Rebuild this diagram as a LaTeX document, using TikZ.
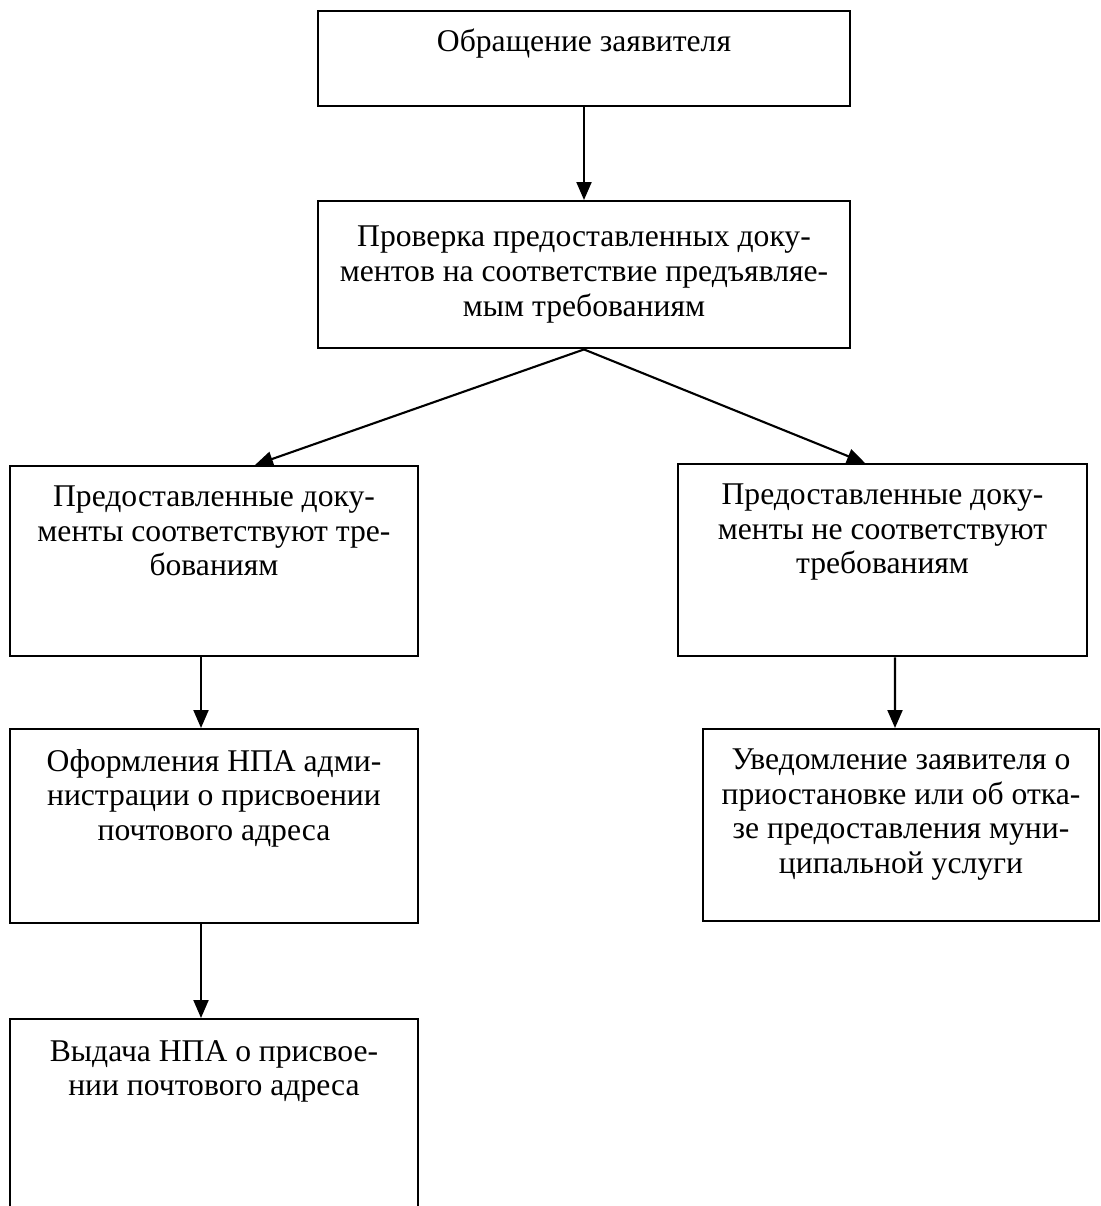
\documentclass[tikz,border=0pt]{standalone}
\usepackage{fontspec}
\setmainfont{Liberation Serif}
\usetikzlibrary{arrows.meta}

\newcommand{\boxtext}[4]{\parbox[c][#2][t]{#1}{\centering\fontsize{18pt}{19.8pt}\selectfont
  \vspace*{#3}\strut #4\strut}}

\begin{document}
\begin{tikzpicture}[x=0.02cm,y=-0.02cm,>={Triangle[length=3.6mm,width=3mm]},
                    box/.style={draw,line width=1.4pt,inner sep=0pt,anchor=north},
                    semithick]

  \clip (0,0) rectangle (1100,1206);

  \node[box] (obr)     at (584,10)   {\boxtext{10.64cm}{1.9cm}{9pt}{Обращение заявителя}};
  \node[box] (prov)    at (584,200)  {\boxtext{10.64cm}{2.94cm}{12pt}{Проверка предоставленных доку-\\ментов на соответствие предъявляе-\\мым требованиям}};
  \node[box] (sootv)   at (214,465)  {\boxtext{8.16cm}{3.8cm}{9pt}{Предоставленные доку-\\менты соответствуют тре-\\бованиям}};
  \node[box] (nesootv) at (882.5,463){\boxtext{8.18cm}{3.84cm}{9pt}{Предоставленные доку-\\менты не соответствуют\\требованиям}};
  \node[box] (oform)   at (214,728)  {\boxtext{8.16cm}{3.88cm}{10pt}{Оформления НПА адми-\\нистрации о присвоении\\почтового адреса}};
  \node[box] (uved)    at (901,728)  {\boxtext{7.92cm}{3.84cm}{9pt}{Уведомление заявителя о\\приостановке или об отка-\\зе предоставления муни-\\ципальной услуги}};
  \node[box] (vydacha) at (214,1018) {\boxtext{8.16cm}{3.94cm}{10pt}{Выдача НПА о присвое-\\нии почтового адреса}};

  \path[->,line width=1.2pt]
        (obr) edge (prov)
        (prov.south) edge ([xshift=0.82cm]sootv.north)
                     edge ([xshift=-0.35cm]nesootv.north)
        ([xshift=-0.26cm]sootv.south) edge ([xshift=-0.26cm]oform.north)
        ([xshift=0.25cm]nesootv.south) edge ([xshift=-0.12cm]uved.north)
        ([xshift=-0.26cm]oform.south) edge ([xshift=-0.26cm]vydacha.north);
\end{tikzpicture}
\end{document}
